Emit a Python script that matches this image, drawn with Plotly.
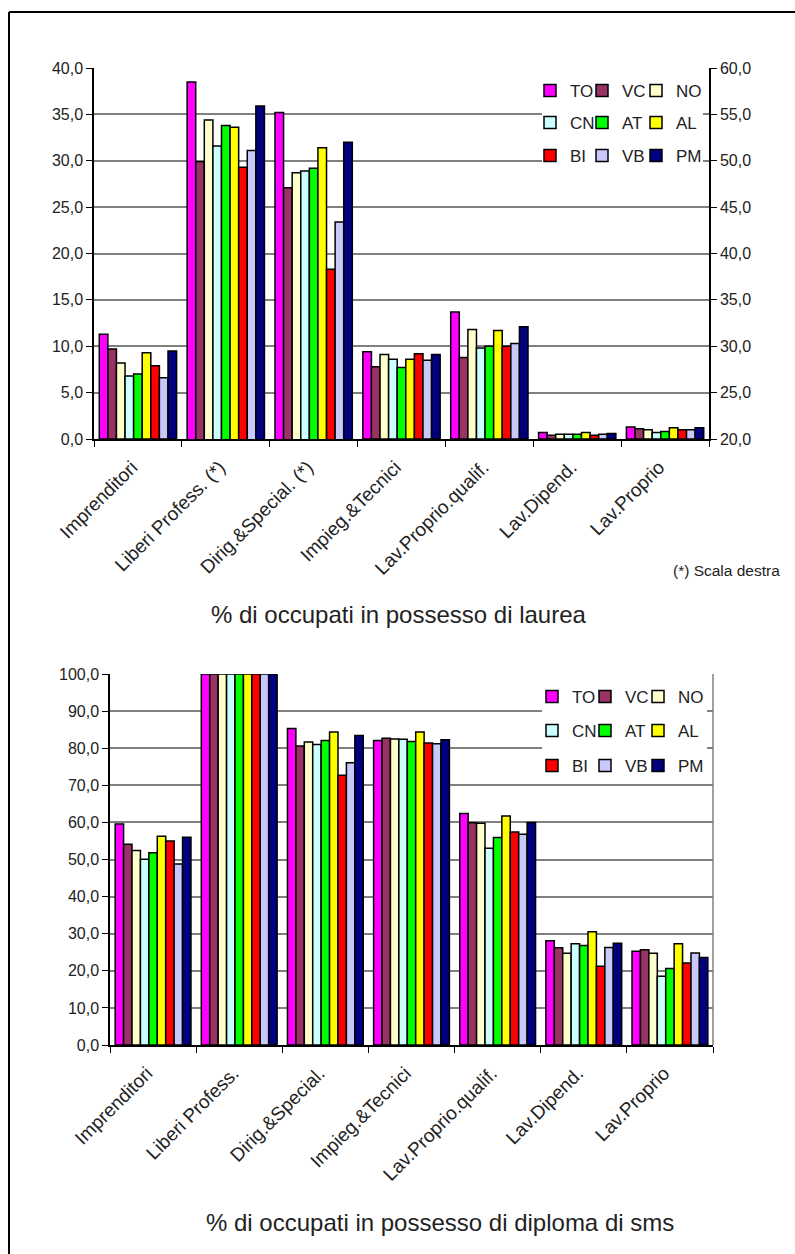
import plotly.graph_objects as go

W, H = 795, 1254

categories_top = ["Imprenditori", "Liberi Profess. (*)", "Dirig.&Special. (*)", "Impieg.&Tecnici",
                  "Lav.Proprio.qualif.", "Lav.Dipend.", "Lav.Proprio"]
categories_bottom = ["Imprenditori", "Liberi Profess.", "Dirig.&Special.", "Impieg.&Tecnici",
                     "Lav.Proprio.qualif.", "Lav.Dipend.", "Lav.Proprio"]
# categories of the top chart read on the right-hand scale
right_scale = [False, True, True, False, False, False, False]

regions = ["TO", "VC", "NO", "CN", "AT", "AL", "BI", "VB", "PM"]
colors = ["#FF00FF", "#993366", "#FFFFCC", "#CCFFFF", "#00FF00", "#FFFF00", "#FF0000", "#C8C8FA", "#000080"]

# % di occupati in possesso di laurea (starred categories on right scale 20-60)
laurea_TO = [11.3, 58.5, 55.2, 9.4, 13.7, 0.7, 1.3]
laurea_VC = [9.7, 49.9, 47.1, 7.8, 8.8, 0.4, 1.1]
laurea_NO = [8.2, 54.4, 48.7, 9.1, 11.8, 0.5, 1.0]
laurea_CN = [6.8, 51.6, 48.9, 8.6, 9.8, 0.5, 0.7]
laurea_AT = [7.0, 53.8, 49.2, 7.7, 10.0, 0.5, 0.8]
laurea_AL = [9.3, 53.6, 51.4, 8.6, 11.7, 0.7, 1.2]
laurea_BI = [7.9, 49.3, 38.3, 9.2, 10.0, 0.4, 1.0]
laurea_VB = [6.6, 51.1, 43.4, 8.5, 10.3, 0.5, 1.0]
laurea_PM = [9.5, 55.9, 52.0, 9.1, 12.1, 0.6, 1.2]

# % di occupati in possesso di diploma di sms
diploma_TO = [59.6, 100.0, 85.3, 82.1, 62.4, 28.1, 25.3]
diploma_VC = [54.1, 100.0, 80.6, 82.7, 59.9, 26.2, 25.7]
diploma_NO = [52.4, 100.0, 81.7, 82.5, 59.8, 24.7, 24.7]
diploma_CN = [50.1, 100.0, 81.0, 82.4, 53.0, 27.3, 18.5]
diploma_AT = [51.8, 100.0, 82.1, 81.8, 55.9, 26.8, 20.6]
diploma_AL = [56.3, 100.0, 84.4, 84.4, 61.7, 30.5, 27.3]
diploma_BI = [55.0, 100.0, 72.7, 81.4, 57.4, 21.2, 22.1]
diploma_VB = [48.8, 100.0, 76.1, 81.2, 56.8, 26.3, 24.8]
diploma_PM = [56.0, 100.0, 83.4, 82.3, 60.0, 27.4, 23.6]

laurea = [laurea_TO, laurea_VC, laurea_NO, laurea_CN, laurea_AT, laurea_AL, laurea_BI, laurea_VB, laurea_PM]
diploma = [diploma_TO, diploma_VC, diploma_NO, diploma_CN, diploma_AT, diploma_AL, diploma_BI, diploma_VB, diploma_PM]

FONT = "Arial, Liberation Sans, sans-serif"
TXT = "#222222"
GRID = "#808080"


def px_x(p):
    return p / W


def px_y(p):
    return 1 - p / H


def legend_key(n):
    return "legend" if n == 1 else "legend%d" % n


fig = go.Figure()

for i, reg in enumerate(regions):
    vals = laurea[i]
    left_vals = [None if r else v for v, r in zip(vals, right_scale)]
    right_vals = [v if r else None for v, r in zip(vals, right_scale)]
    fig.add_trace(go.Bar(x=categories_top, y=left_vals, name=reg, xaxis="x", yaxis="y",
                         marker=dict(color=colors[i], line=dict(color="black", width=1.5)),
                         legend=legend_key(i + 1), showlegend=True))
    fig.add_trace(go.Bar(x=categories_top, y=right_vals, name=reg, xaxis="x", yaxis="y2",
                         marker=dict(color=colors[i], line=dict(color="black", width=1.5)),
                         showlegend=False))

for i, reg in enumerate(regions):
    fig.add_trace(go.Bar(x=categories_bottom, y=diploma[i], name=reg, xaxis="x2", yaxis="y3",
                         marker=dict(color=colors[i], line=dict(color="black", width=1.5)),
                         legend=legend_key(i + 10), showlegend=True))

axis_font = dict(family=FONT, size=16, color=TXT)
cat_font = dict(family=FONT, size=19, color=TXT)

xcommon = dict(type="category", tickangle=-45, tickson="boundaries", ticks="outside", ticklen=6,
               tickcolor="black", showline=True, linecolor="black", linewidth=1.5,
               showgrid=False, tickfont=cat_font, fixedrange=True,
               ticklabelstandoff=8, ticklabelshift=-6)
ycommon = dict(ticks="outside", ticklen=6, tickcolor="black", showline=True, linecolor="black",
               linewidth=1.5, tickfont=axis_font, tickformat=".1f", zeroline=False, fixedrange=True)

legend_common = dict(orientation="v", bgcolor="rgba(0,0,0,0)", borderwidth=0,
                     font=dict(family=FONT, size=17, color=TXT),
                     xanchor="left", yanchor="middle", itemclick=False, itemdoubleclick=False)

LEG_OFF = 20  # distance from legend box left edge to symbol centre (px)
top_rows = [91, 123, 156]
top_cols = [550, 602, 656]
bot_rows = [697, 731, 766]
bot_cols = [552, 605, 658]

layout_legends = {}
for i in range(9):
    r, c = divmod(i, 3)
    layout_legends[legend_key(i + 1)] = dict(legend_common, x=px_x(top_cols[c] - LEG_OFF), y=px_y(top_rows[r]))
    layout_legends[legend_key(i + 10)] = dict(legend_common, x=px_x(bot_cols[c] - LEG_OFF), y=px_y(bot_rows[r]))

fig.update_layout(
    width=W, height=H,
    margin=dict(l=0, r=0, t=0, b=0, autoexpand=False),
    paper_bgcolor="white", plot_bgcolor="white",
    separators=",.",
    barmode="group", bargap=0.12, bargroupgap=0,
    font=dict(family=FONT, color=TXT),
    xaxis=dict(xcommon, domain=[px_x(94), px_x(709)], anchor="y"),
    yaxis=dict(ycommon, domain=[px_y(439), px_y(68)], range=[0, 40], dtick=5,
               showgrid=True, gridcolor=GRID, gridwidth=1.5),
    yaxis2=dict(ycommon, overlaying="y", side="right", anchor="x", range=[20, 60], dtick=5,
                showgrid=False),
    xaxis2=dict(xcommon, domain=[px_x(110), px_x(713)], anchor="y3"),
    yaxis3=dict(ycommon, domain=[px_y(1045), px_y(674)], range=[0, 100], dtick=10,
                showgrid=True, gridcolor=GRID, gridwidth=1.5, anchor="x2"),
    **layout_legends,
)

shapes = [
    # white boxes behind the legends
    dict(type="rect", xref="paper", yref="paper", x0=px_x(542), x1=px_x(703), y0=px_y(172), y1=px_y(72),
         fillcolor="white", line=dict(width=0), layer="above"),
    dict(type="rect", xref="paper", yref="paper", x0=px_x(542), x1=px_x(707), y0=px_y(780), y1=px_y(680),
         fillcolor="white", line=dict(width=0), layer="above"),
    # right frame of lower plot area
    dict(type="line", xref="x2 domain", yref="y3 domain", x0=1, x1=1, y0=0, y1=1,
         line=dict(color=GRID, width=1.5)),
    # outer page frame (top and left)
    dict(type="line", xref="paper", yref="paper", x0=px_x(9), x1=1, y0=px_y(12), y1=px_y(12),
         line=dict(color="black", width=2)),
    dict(type="line", xref="paper", yref="paper", x0=px_x(9), x1=px_x(9), y0=px_y(12), y1=0,
         line=dict(color="black", width=2)),
]
fig.update_layout(shapes=shapes)

fig.add_annotation(text="% di occupati in possesso di laurea", xref="paper", yref="paper",
                   x=px_x(399), y=px_y(615), showarrow=False, xanchor="center", yanchor="middle",
                   font=dict(family=FONT, size=24, color=TXT))
fig.add_annotation(text="(*) Scala destra", xref="paper", yref="paper",
                   x=px_x(726), y=px_y(570), showarrow=False, xanchor="center", yanchor="middle",
                   font=dict(family=FONT, size=15.5, color=TXT))
fig.add_annotation(text="% di occupati in possesso di diploma di sms", xref="paper", yref="paper",
                   x=px_x(440), y=px_y(1222), showarrow=False, xanchor="center", yanchor="middle",
                   font=dict(family=FONT, size=24, color=TXT))

fig.write_html("out.html")
